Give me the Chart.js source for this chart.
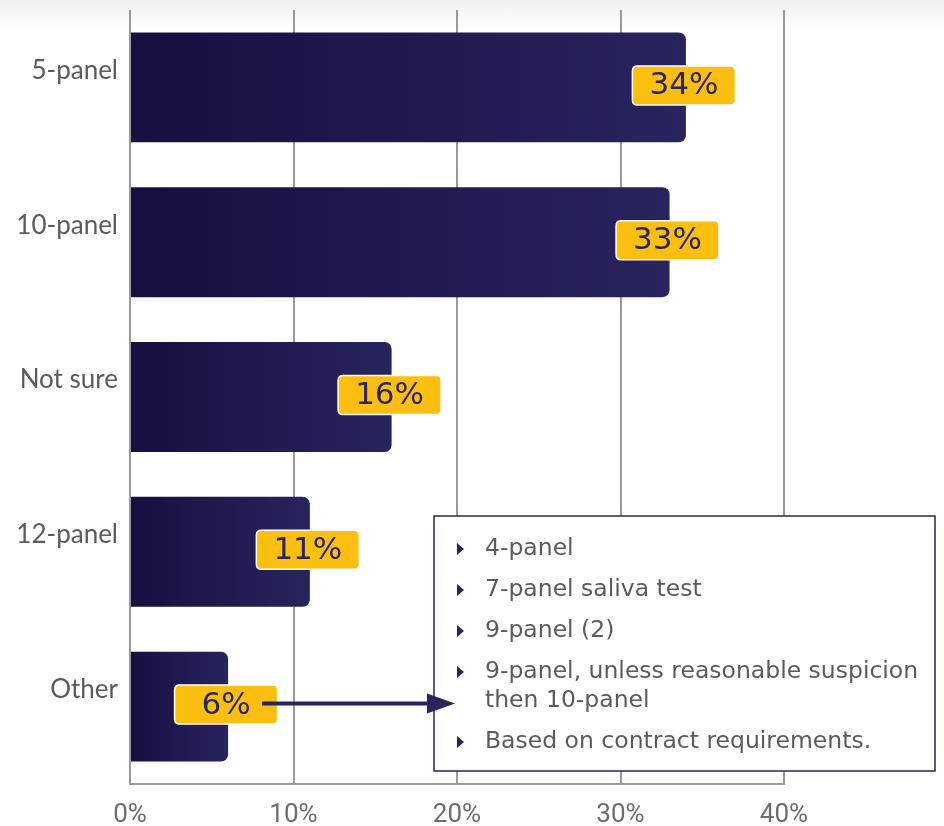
<!DOCTYPE html>
<html>
<head>
<meta charset="utf-8">
<script src="https://cdn.jsdelivr.net/npm/chart.js@4"></script>
<style>
  html, body { margin: 0; padding: 0; }
  body { background: linear-gradient(#f1f1f1 0px, #ffffff 30px); width: 944px; height: 826px; overflow: hidden; }
  canvas { display: block; }
</style>
</head>
<body>
<canvas id="panelChart" width="944" height="826"></canvas>
<script>
const categories = ["5-panel", "10-panel", "Not sure", "12-panel", "Other"];
const shares = [34, 33, 16, 11, 6];
const xTicks = [0, 10, 20, 30, 40];
const otherNotes = [
  ["4-panel"],
  ["7-panel saliva test"],
  ["9-panel (2)"],
  ["9-panel, unless reasonable suspicion", "then 10-panel"],
  ["Based on contract requirements."],
];

const NAVY = "#28245e";
const NAVY_DARK = "#160f40";
const GOLD = "#fcbf10";
const GRID = "#9a9a9c";
const TEXT_GRAY = "#5b5b5e";
const WIDE_FONT = "'DejaVu Sans'";

function barGradient(context) {
  const chart = context.chart;
  const area = chart.chartArea;
  if (!area || !chart.scales.x) return NAVY;
  const end = chart.scales.x.getPixelForValue(context.raw || 0);
  const g = chart.ctx.createLinearGradient(area.left, 0, Math.max(end, area.left + 1), 0);
  g.addColorStop(0, NAVY_DARK);
  g.addColorStop(1, NAVY);
  return g;
}

function roundRect(ctx, x, y, w, h, r) {
  ctx.beginPath();
  ctx.moveTo(x + r, y);
  ctx.lineTo(x + w - r, y);
  ctx.quadraticCurveTo(x + w, y, x + w, y + r);
  ctx.lineTo(x + w, y + h - r);
  ctx.quadraticCurveTo(x + w, y + h, x + w - r, y + h);
  ctx.lineTo(x + r, y + h);
  ctx.quadraticCurveTo(x, y + h, x, y + h - r);
  ctx.lineTo(x, y + r);
  ctx.quadraticCurveTo(x, y, x + r, y);
  ctx.closePath();
}

// yellow value tags sitting on the end of each bar
const valueTags = {
  id: "valueTags",
  afterDatasetsDraw(chart) {
    const ctx = chart.ctx;
    const meta = chart.getDatasetMeta(0);
    ctx.save();
    meta.data.forEach((bar, i) => {
      const cx = bar.x - 2;
      const cy = bar.y - 2;
      const w = 103, h = 39;
      roundRect(ctx, cx - w / 2, cy - h / 2, w, h, 5);
      ctx.fillStyle = GOLD;
      ctx.fill();
      ctx.lineWidth = 1.5;
      ctx.strokeStyle = "#ffffff";
      ctx.stroke();
      ctx.fillStyle = NAVY;
      ctx.font = "31px " + WIDE_FONT;
      ctx.textAlign = "center";
      ctx.textBaseline = "middle";
      ctx.fillText(shares[i] + "%", cx, cy + 1);
    });
    ctx.restore();
  },
};

// breakdown of the "Other" answers, with an arrow from its tag
const otherCallout = {
  id: "otherCallout",
  afterDraw(chart) {
    const ctx = chart.ctx;
    const bar = chart.getDatasetMeta(0).data[categories.indexOf("Other")];
    const box = { left: 434, top: 516, right: 935, bottom: 771 };
    ctx.save();
    ctx.fillStyle = "#ffffff";
    ctx.fillRect(box.left, box.top, box.right - box.left, box.bottom - box.top);
    ctx.strokeStyle = NAVY;
    ctx.lineWidth = 1.5;
    ctx.strokeRect(box.left, box.top, box.right - box.left, box.bottom - box.top);

    ctx.font = "23.5px " + WIDE_FONT;
    ctx.textAlign = "left";
    ctx.textBaseline = "middle";
    let y = box.top + 33;
    otherNotes.forEach((lines) => {
      ctx.fillStyle = NAVY;
      ctx.beginPath();
      ctx.moveTo(box.left + 23, y - 6);
      ctx.lineTo(box.left + 30, y);
      ctx.lineTo(box.left + 23, y + 6);
      ctx.closePath();
      ctx.fill();
      ctx.fillStyle = TEXT_GRAY;
      lines.forEach((line, j) => {
        ctx.fillText(line, box.left + 51, y + j * 29);
      });
      y += 41 + (lines.length - 1) * 29;
    });

    // arrow
    const ay = bar.y - 3;
    const x0 = bar.x + 34;
    const tip = box.left + 21;
    ctx.strokeStyle = NAVY;
    ctx.lineWidth = 4;
    ctx.beginPath();
    ctx.moveTo(x0, ay);
    ctx.lineTo(tip - 20, ay);
    ctx.stroke();
    ctx.fillStyle = NAVY;
    ctx.beginPath();
    ctx.moveTo(tip, ay);
    ctx.lineTo(tip - 28, ay - 10);
    ctx.lineTo(tip - 28, ay + 10);
    ctx.closePath();
    ctx.fill();
    ctx.restore();
  },
};

new Chart(document.getElementById("panelChart").getContext("2d"), {
  type: "bar",
  data: {
    labels: categories,
    datasets: [{
      data: shares,
      backgroundColor: barGradient,
      borderRadius: 7,
      borderSkipped: "start",
      barPercentage: 0.71,
      categoryPercentage: 1,
    }],
  },
  options: {
    indexAxis: "y",
    responsive: false,
    animation: false,
    layout: { padding: { top: 10, right: 160, left: 0, bottom: 0 } },
    plugins: { legend: { display: false }, tooltip: { enabled: false } },
    scales: {
      x: {
        min: xTicks[0],
        max: xTicks[xTicks.length - 1],
        afterBuildTicks(scale) {
          scale.ticks = xTicks.map((v) => ({ value: v }));
        },
        afterFit(scale) {
          scale.height = 42;
          scale.paddingLeft = 0;
          scale.paddingRight = 0;
        },
        grid: { color: GRID, lineWidth: 2, drawTicks: false },
        border: { display: true, color: GRID, width: 2 },
        ticks: {
          padding: 16,
          maxRotation: 0,
          color: "#6d6d70",
          font: { family: "Roboto", size: 26 },
          callback: (v) => v + "%",
        },
      },
      y: {
        afterFit(scale) {
          scale.width = 130;
          scale.paddingTop = 0;
          scale.paddingBottom = 0;
        },
        grid: { display: false, drawTicks: false },
        border: { display: false },
        ticks: {
          padding: 12,
          labelOffset: -17,
          color: TEXT_GRAY,
          font: { family: "Lato", size: 26 },
        },
      },
    },
  },
  plugins: [valueTags, otherCallout],
});
</script>
</body>
</html>
